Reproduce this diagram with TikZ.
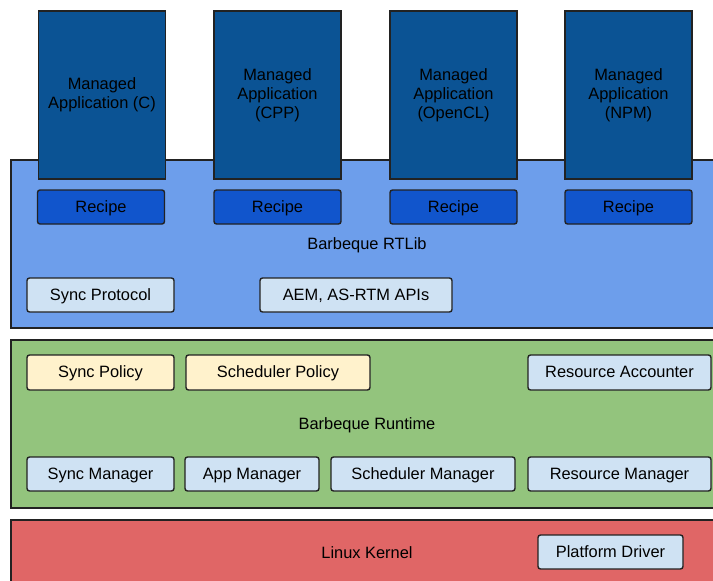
\documentclass[tikz,border=0pt]{standalone}
\usepackage{fontspec}
\setmainfont{Liberation Sans}
\definecolor{rtlib}{HTML}{6D9EEB}
\definecolor{appblue}{HTML}{0B5394}
\definecolor{recipeblue}{HTML}{1155CC}
\definecolor{lightblue}{HTML}{CFE2F3}
\definecolor{lightyellow}{HTML}{FFF2CC}
\definecolor{runtime}{HTML}{93C47D}
\definecolor{kernel}{HTML}{E06666}
\definecolor{edge}{HTML}{222222}
\begin{document}
\begin{tikzpicture}[x=1pt, y=-1pt,
    every node/.style={font=\fontsize{16.4}{19}\selectfont, text=black, inner sep=0pt},
    oneline/.style={text height=12pt, text depth=2pt},
    layer/.style={draw=edge, line width=1.2pt},
    app/.style={draw=edge, line width=1.4pt, fill=appblue, minimum width=127pt, minimum height=168pt, align=center},
    recipe/.style={oneline, draw=edge, line width=1.4pt, fill=recipeblue, rounded corners=2.5pt, minimum width=127pt, minimum height=34pt},
    part/.style={oneline, draw=edge, line width=1.4pt, fill=lightblue, rounded corners=2.5pt, minimum height=34pt},
    policy/.style={part, fill=lightyellow}]
    \useasboundingbox (0,0) rectangle (713,581);

    % layers
    \draw[layer, fill=rtlib] (11,160) rectangle (725,328);
    \draw[layer, fill=runtime] (11,340) rectangle (725,508);
    \draw[layer, fill=kernel] (11,520) rectangle (725,595);

    % managed applications
    \node[app] (appc) at (102,95) {Managed\\Application (C)};
    \node[app] (appcpp) at (277.5,95) {Managed\\Application\\(CPP)};
    \node[app] (appocl) at (453.5,95) {Managed\\Application\\(OpenCL)};
    \node[app] (appnpm) at (628.5,95) {Managed\\Application\\(NPM)};

    \node[recipe] (recc) at (101,207) {Recipe};
    \node[recipe] (reccpp) at (277.5,207) {Recipe};
    \node[recipe] (recocl) at (453.5,207) {Recipe};
    \node[recipe] (recnpm) at (628.5,207) {Recipe};

    % rtlib
    \node[oneline] (rtlib) at (367,244) {Barbeque RTLib};
    \node[part, minimum width=147pt] (syncproto) at (100.5,295) {Sync Protocol};
    \node[part, minimum width=192pt] (aem) at (356,295) {AEM, AS-RTM APIs};

    % runtime
    \node[policy, minimum width=147pt, minimum height=35pt] (syncpol) at (100.5,372.5) {Sync Policy};
    \node[policy, minimum width=184pt, minimum height=35pt] (schedpol) at (278,372.5) {Scheduler Policy};
    \node[part, minimum width=183pt, minimum height=35pt] (resacc) at (619.5,372.5) {Resource Accounter};
    \node[oneline] (runtime) at (367,424) {Barbeque Runtime};
    \node[part, minimum width=147pt] (syncmgr) at (100.5,474) {Sync Manager};
    \node[part, minimum width=134pt] (appmgr) at (252,474) {App Manager};
    \node[part, minimum width=184pt] (schedmgr) at (423,474) {Scheduler Manager};
    \node[part, minimum width=183pt] (resmgr) at (619.5,474) {Resource Manager};

    % kernel
    \node[oneline] (kernel) at (367,553) {Linux Kernel};
    \node[part, minimum width=145pt] (pdriver) at (610.5,552) {Platform Driver};
\end{tikzpicture}
\end{document}
